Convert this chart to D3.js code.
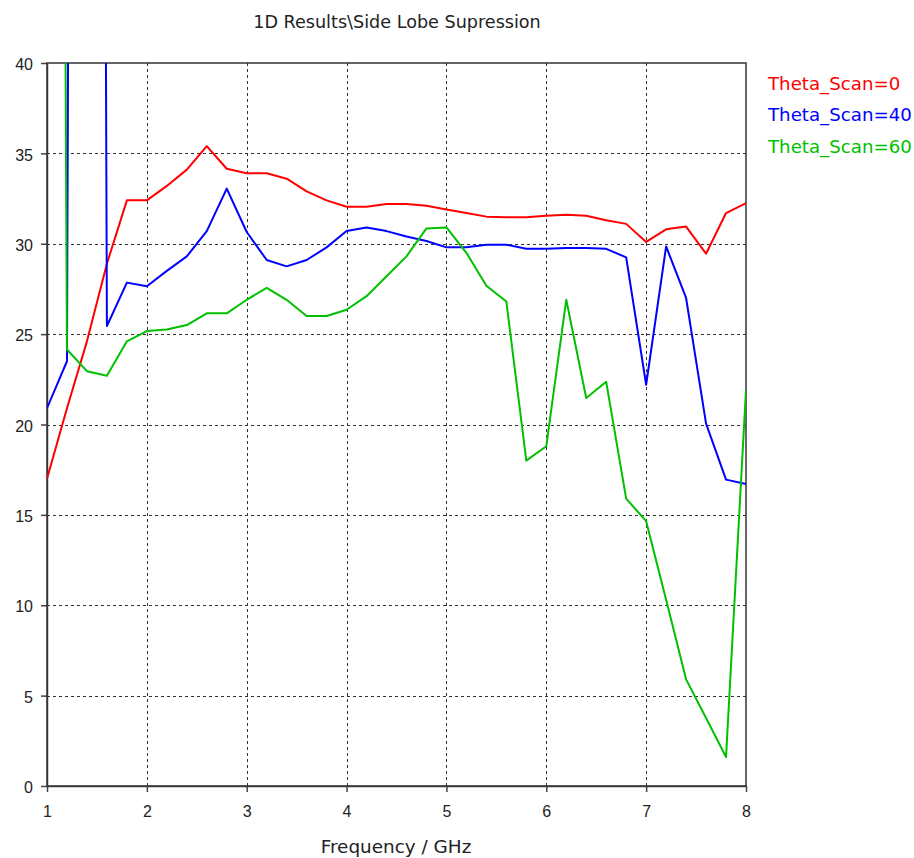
<!DOCTYPE html>
<html>
<head>
<meta charset="utf-8">
<script src="https://cdn.jsdelivr.net/npm/d3@7"></script>
<style>
  body { margin: 0; background: #fff; }
  svg { display: block; font-family: "DejaVu Sans", sans-serif; }
</style>
</head>
<body>
<svg id="chart"></svg>
<script>
const width = 914
const height = 858

// frequency samples (GHz)
const freq = [1.0, 1.2, 1.4, 1.6, 1.8, 2.0, 2.2, 2.4, 2.6, 2.8, 3.0, 3.2, 3.4, 3.6, 3.8, 4.0, 4.2, 4.4,
  4.6, 4.8, 5.0, 5.2, 5.4, 5.6, 5.8, 6.0, 6.2, 6.4, 6.6, 6.8, 7.0, 7.2, 7.4, 7.6, 7.8, 8.0]

// side lobe suppression per scan angle (values above 40 run off the plot)
const scan0 = [17.0, 20.9, 24.6, 28.9, 32.4, 32.4, 33.2, 34.1, 35.4, 34.15, 33.9, 33.9, 33.6, 32.9, 32.4, 32.05,
  32.05, 32.2, 32.2, 32.1, 31.9, 31.7, 31.5, 31.47, 31.47, 31.55, 31.6, 31.55, 31.3, 31.1, 30.1, 30.8,
  30.95, 29.45, 31.7, 32.25]
const scan40 = [20.9, 23.5, 330, 25.45, 27.85, 27.65, 28.5, 29.3, 30.7, 33.05, 30.65, 29.1, 28.75, 29.1, 29.8, 30.7,
  30.9, 30.7, 30.4, 30.15, 29.8, 29.8, 29.95, 29.95, 29.72, 29.72, 29.76, 29.76, 29.72, 29.25, 22.2, 29.85,
  27.0, 20.05, 16.95, 16.7]
const scan60 = [250, 24.15, 22.95, 22.7, 24.6, 25.17, 25.26, 25.5, 26.15, 26.15, 26.9, 27.56, 26.9, 26.0, 26.0, 26.35,
  27.1, 28.2, 29.3, 30.85, 30.9, 29.5, 27.68, 26.8, 18.0, 18.8, 26.9, 21.47, 22.36, 15.9, 14.65, 10.3,
  5.9, 3.76, 1.6, 21.9]

const seriesNames = ["Theta_Scan=0", "Theta_Scan=40", "Theta_Scan=60"]
const seriesColors = ["#ff0000", "#0000ff", "#00c000"]
const xTicks = [1, 2, 3, 4, 5, 6, 7, 8]
const yTicks = [0, 5, 10, 15, 20, 25, 30, 35, 40]

const margin = { left: 47, right: 168, top: 63, bottom: 72 }

const svg = d3.select("#chart")
  .attr("width", width)
  .attr("height", height)

const x = d3.scaleLinear().domain([1, 8]).range([margin.left, width - margin.right])
const y = d3.scaleLinear().domain([0, 40]).range([height - margin.bottom, margin.top])

svg.append("defs").append("clipPath")
  .attr("id", "plotclip")
  .append("rect")
  .attr("x", x(1))
  .attr("y", y(40))
  .attr("width", x(8) - x(1))
  .attr("height", y(0) - y(40))

// dashed grid
const grid = svg.append("g")
  .attr("stroke", "#333")
  .attr("stroke-width", 1)
  .attr("stroke-dasharray", "3,3")
  .attr("shape-rendering", "crispEdges")

grid.selectAll(".vgrid")
  .data(xTicks.slice(1, -1))
  .enter()
  .append("line")
  .attr("x1", d => Math.round(x(d)) + 0.5)
  .attr("x2", d => Math.round(x(d)) + 0.5)
  .attr("y1", y(40))
  .attr("y2", y(0))

grid.selectAll(".hgrid")
  .data(yTicks.slice(1, -1))
  .enter()
  .append("line")
  .attr("x1", x(1))
  .attr("x2", x(8))
  .attr("y1", d => Math.round(y(d)) + 0.5)
  .attr("y2", d => Math.round(y(d)) + 0.5)

// axes
const xAxis = d3.axisBottom(x).tickValues(xTicks).tickFormat(d3.format("d")).tickSize(6).tickSizeOuter(0)
const yAxis = d3.axisLeft(y).tickValues(yTicks).tickFormat(d3.format("d")).tickSize(6).tickSizeOuter(0)

const gx = svg.append("g")
  .attr("transform", "translate(0," + y(0) + ")")
  .call(xAxis)
gx.selectAll("text").attr("font-size", 16).attr("fill", "#222").attr("y", 31).attr("dy", 0)

const gy = svg.append("g")
  .attr("transform", "translate(" + x(1) + ",0)")
  .call(yAxis)
gy.selectAll("text").attr("font-size", 16).attr("fill", "#222").attr("x", -14).attr("dy", "0.42em")

svg.selectAll(".domain, .tick line").attr("stroke", "#444").attr("stroke-width", 1.5)

// frame on top and right
svg.append("rect")
  .attr("x", x(1))
  .attr("y", y(40))
  .attr("width", x(8) - x(1))
  .attr("height", y(0) - y(40))
  .attr("fill", "none")
  .attr("stroke", "#333")
  .attr("stroke-width", 1.5)

// curves
const line = d3.line()
  .x((d, i) => x(freq[i]))
  .y(d => y(d))

svg.append("g")
  .attr("clip-path", "url(#plotclip)")
  .selectAll("path")
  .data([scan0, scan40, scan60])
  .enter()
  .append("path")
  .attr("fill", "none")
  .attr("stroke", (d, i) => seriesColors[i])
  .attr("stroke-width", 2)
  .attr("stroke-linejoin", "round")
  .attr("d", line)

// legend
svg.append("g")
  .selectAll("text")
  .data(seriesNames)
  .enter()
  .append("text")
  .attr("x", 768)
  .attr("y", (d, i) => 90 + i * 31.3)
  .attr("font-size", 18.2)
  .attr("fill", (d, i) => seriesColors[i])
  .text(d => d)

// titles
svg.append("text")
  .attr("x", 397)
  .attr("y", 28)
  .attr("text-anchor", "middle")
  .attr("font-size", 17.6)
  .attr("fill", "#222")
  .text("1D Results\\Side Lobe Supression")

svg.append("text")
  .attr("x", 396)
  .attr("y", 853)
  .attr("text-anchor", "middle")
  .attr("font-size", 18.4)
  .attr("fill", "#222")
  .text("Frequency / GHz")
</script>
</body>
</html>
